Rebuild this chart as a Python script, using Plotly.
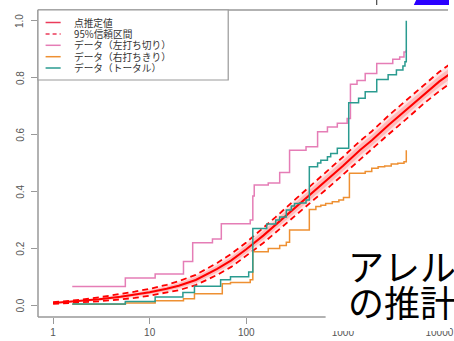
import plotly.graph_objects as go

# ---------------- data ----------------
# smooth estimate and confidence interval (x on log scale)
est_x = [1, 1.5, 2, 3, 5, 7, 10, 15, 20, 30, 50, 70, 100, 150, 200, 300, 500, 700,
         1000, 1500, 2000, 3000, 5000, 7000, 10000, 13000]
est_y = [0.008, 0.012, 0.015, 0.021, 0.030, 0.037, 0.046, 0.058, 0.069, 0.089, 0.128, 0.158,
         0.197, 0.245, 0.282, 0.335, 0.400, 0.442, 0.490, 0.545, 0.580, 0.635, 0.700, 0.745,
         0.787, 0.815]
ci_upper = [0.011, 0.016, 0.020, 0.028, 0.039, 0.048, 0.058, 0.072, 0.085, 0.107, 0.149, 0.181,
            0.221, 0.271, 0.309, 0.363, 0.429, 0.472, 0.521, 0.577, 0.612, 0.668, 0.733, 0.779,
            0.821, 0.849]
ci_lower = [0.005, 0.008, 0.010, 0.014, 0.021, 0.026, 0.034, 0.044, 0.053, 0.071, 0.107, 0.135,
            0.173, 0.219, 0.255, 0.307, 0.371, 0.412, 0.459, 0.513, 0.548, 0.602, 0.667, 0.711,
            0.753, 0.781]
shade_upper = [0.010, 0.0145, 0.018, 0.025, 0.035, 0.043, 0.053, 0.066, 0.078, 0.100, 0.140, 0.171,
               0.211, 0.260, 0.298, 0.352, 0.418, 0.460, 0.509, 0.564, 0.599, 0.655, 0.720, 0.765,
               0.807, 0.835]
shade_lower = [0.006, 0.0095, 0.012, 0.017, 0.025, 0.031, 0.039, 0.050, 0.060, 0.078, 0.116, 0.145,
               0.183, 0.230, 0.266, 0.318, 0.382, 0.424, 0.471, 0.526, 0.561, 0.615, 0.680, 0.725,
               0.767, 0.795]

# step data (left censored)
left_x = [1.58, 5.6, 11.4, 22.4, 27.9, 44.7, 55.2, 110, 117, 121, 169, 222, 281, 416, 548, 693,
          877, 1109, 1199, 1403, 1705, 2245, 3289, 3880, 4300, 4541]
left_y = [0.066, 0.096, 0.110, 0.154, 0.220, 0.233, 0.287, 0.300, 0.384, 0.423, 0.430, 0.467,
          0.545, 0.557, 0.610, 0.627, 0.640, 0.657, 0.777, 0.790, 0.815, 0.850, 0.865, 0.873,
          0.890, 0.897]
# right censored
right_x = [1.58, 5.6, 11.4, 22.4, 29.1, 56.5, 68.7, 110, 117, 169, 222, 260, 281, 450, 526, 592,
           664, 778, 910, 1016, 1170, 1705, 1993, 2321, 2712, 3171, 3707, 4300, 4541]
right_y = [0.004, 0.008, 0.016, 0.023, 0.041, 0.076, 0.080, 0.090, 0.188, 0.200, 0.210, 0.222,
           0.265, 0.337, 0.347, 0.352, 0.358, 0.364, 0.370, 0.379, 0.464, 0.470, 0.482, 0.487,
           0.490, 0.497, 0.499, 0.505, 0.545]
# total
total_x = [1.58, 5.6, 11.4, 22.1, 29.1, 54.3, 68.7, 106, 117, 163, 202, 222, 260, 293, 316, 356,
           416, 450, 548, 592, 693, 749, 877, 1151, 1456, 1705, 2245, 2945, 3589, 4191, 4400, 4541]
total_y = [0.005, 0.013, 0.029, 0.045, 0.067, 0.090, 0.100, 0.117, 0.270, 0.286, 0.300, 0.310,
           0.335, 0.349, 0.358, 0.360, 0.370, 0.487, 0.500, 0.510, 0.522, 0.534, 0.552, 0.712,
           0.728, 0.751, 0.794, 0.810, 0.827, 0.841, 0.856, 1.000]

x_ticks = [1, 10, 100, 1000, 10000]
x_ticklabels = ["1", "10", "100", "1000", "10000"]
y_ticks = [0.0, 0.2, 0.4, 0.6, 0.8, 1.0]
y_ticklabels = ["0.0", "0.2", "0.4", "0.6", "0.8", "1.0"]

legend_labels = ["点推定値", "95%信頼区間", "データ（左打ち切り）", "データ（右打ちきり）", "データ（トータル）"]
title_line1 = "アレルギー"
title_line2 = "の推計"

# ---------------- styling ----------------
W, H = 454, 341
L, R, T, B = 38, 454, 10, 317
PINK, ORANGE, TEAL, RED = "#E57DB6", "#EE9032", "#2A9B90", "#FF0000"
FRAME = "#999999"
Y0, Y1 = -0.0411, 1.038


def px(x):
    return (x - L) / (R - L)


def py(y):
    return (B - y) / (B - T)


fig = go.Figure()

# shaded band
fig.add_trace(go.Scatter(x=est_x, y=ci_upper, mode="lines", line=dict(width=0), hoverinfo="skip"))
fig.add_trace(go.Scatter(x=est_x, y=ci_lower, mode="lines", line=dict(width=0), fill="tonexty",
                         fillcolor="rgba(255,0,0,0.10)", hoverinfo="skip"))
fig.add_trace(go.Scatter(x=est_x, y=shade_upper, mode="lines", line=dict(width=0), hoverinfo="skip"))
fig.add_trace(go.Scatter(x=est_x, y=shade_lower, mode="lines", line=dict(width=0), fill="tonexty",
                         fillcolor="rgba(255,0,0,0.18)", hoverinfo="skip"))
fig.add_trace(go.Scatter(x=est_x, y=est_y, mode="lines", line=dict(color=RED, width=2)))
fig.add_trace(go.Scatter(x=est_x, y=ci_upper, mode="lines", line=dict(color=RED, width=1.8, dash="6px,4px")))
fig.add_trace(go.Scatter(x=est_x, y=ci_lower, mode="lines", line=dict(color=RED, width=1.8, dash="6px,4px")))

fig.add_trace(go.Scatter(x=left_x, y=left_y, mode="lines", line=dict(color=PINK, width=1.5, shape="hv")))
fig.add_trace(go.Scatter(x=right_x, y=right_y, mode="lines", line=dict(color=ORANGE, width=1.5, shape="hv")))
fig.add_trace(go.Scatter(x=total_x, y=total_y, mode="lines", line=dict(color=TEAL, width=1.5, shape="hv")))

shapes = []
# frame
shapes.append(dict(type="line", xref="paper", yref="paper", x0=px(L), x1=px(L), y0=py(T), y1=py(B),
                   line=dict(color=FRAME, width=1.5)))
shapes.append(dict(type="line", xref="paper", yref="paper", x0=px(L), x1=px(R), y0=py(T), y1=py(T),
                   line=dict(color=FRAME, width=1.5)))
shapes.append(dict(type="line", xref="paper", yref="paper", x0=px(L), x1=px(330), y0=py(B), y1=py(B),
                   line=dict(color=FRAME, width=1.5)))
# legend box
shapes.append(dict(type="rect", xref="paper", yref="paper", x0=px(38), x1=px(231), y0=py(80), y1=py(10),
                   line=dict(color=FRAME, width=1.2), fillcolor="white", layer="above"))
rows = [22.5, 34, 45.3, 56.7, 68]
leg_styles = [("#EB3B5A", "solid"), ("#EB3B5A", "4px,3px"), (PINK, "solid"), (ORANGE, "solid"), (TEAL, "solid")]
for r, (c, d) in zip(rows, leg_styles):
    shapes.append(dict(type="line", xref="paper", yref="paper", x0=px(45.7), x1=px(61), y0=py(r), y1=py(r),
                       line=dict(color=c, width=1.5, dash=d), layer="above"))
# white text box of the slide
shapes.append(dict(type="rect", xref="paper", yref="paper", x0=px(330), x1=px(456), y0=py(331), y1=py(238),
                   line=dict(width=0), fillcolor="white", layer="above"))
# slide decorations on top
shapes.append(dict(type="line", xref="paper", yref="paper", x0=px(381.7), x1=px(381.7), y0=py(0), y1=py(5),
                   line=dict(color="#222222", width=1)))
shapes.append(dict(type="path", xref="paper", yref="paper",
                   path=f"M {px(421.7)},{py(0)} L {px(455)},{py(0)} L {px(455)},{py(5)} L {px(419.3)},{py(5)} Z",
                   line=dict(width=0), fillcolor="#2A00FF"))

annotations = []
for r, t in zip(rows, legend_labels):
    annotations.append(dict(text=t, xref="paper", yref="paper", x=px(72.7), y=py(r), xanchor="left",
                            yanchor="middle", showarrow=False,
                            font=dict(family="Noto Sans CJK JP", size=9.7, color="#333333")))
# y tick labels (rotated, R style)
for v, t in zip(y_ticks, y_ticklabels):
    annotations.append(dict(text=t, xref="paper", yref="y", x=px(20), y=v, xanchor="center",
                            yanchor="middle", showarrow=False, textangle=-90,
                            font=dict(family="Liberation Sans", size=10, color="#555555")))
annotations.append(dict(text=title_line1, xref="paper", yref="paper", x=px(350), y=py(265), xanchor="left",
                        yanchor="middle", showarrow=False,
                        font=dict(family="Noto Sans CJK JP", size=36, color="black")))
annotations.append(dict(text=title_line2, xref="paper", yref="paper", x=px(350), y=py(301), xanchor="left",
                        yanchor="middle", showarrow=False,
                        font=dict(family="Noto Sans CJK JP", size=36, color="black")))

fig.update_layout(
    width=W, height=H, autosize=False,
    margin=dict(l=L, r=W - R, t=T, b=H - B, pad=0),
    paper_bgcolor="white", plot_bgcolor="white",
    showlegend=False,
    shapes=shapes, annotations=annotations,
    xaxis=dict(type="log", range=[-0.156, 4.089], tickvals=x_ticks, ticktext=x_ticklabels,
               ticks="outside", ticklen=6, tickwidth=1, tickcolor=FRAME, ticklabeloverflow="allow",
               tickfont=dict(family="Liberation Sans", size=10, color="#555555"),
               showgrid=False, zeroline=False, showline=False),
    yaxis=dict(range=[Y0, Y1], tickvals=y_ticks, showticklabels=False,
               ticks="outside", ticklen=6, tickwidth=1, tickcolor=FRAME,
               showgrid=False, zeroline=False, showline=False),
)

fig.write_html("out.html", config={"displayModeBar": False},
               post_script="document.body.style.margin='0';document.body.style.padding='0';")
